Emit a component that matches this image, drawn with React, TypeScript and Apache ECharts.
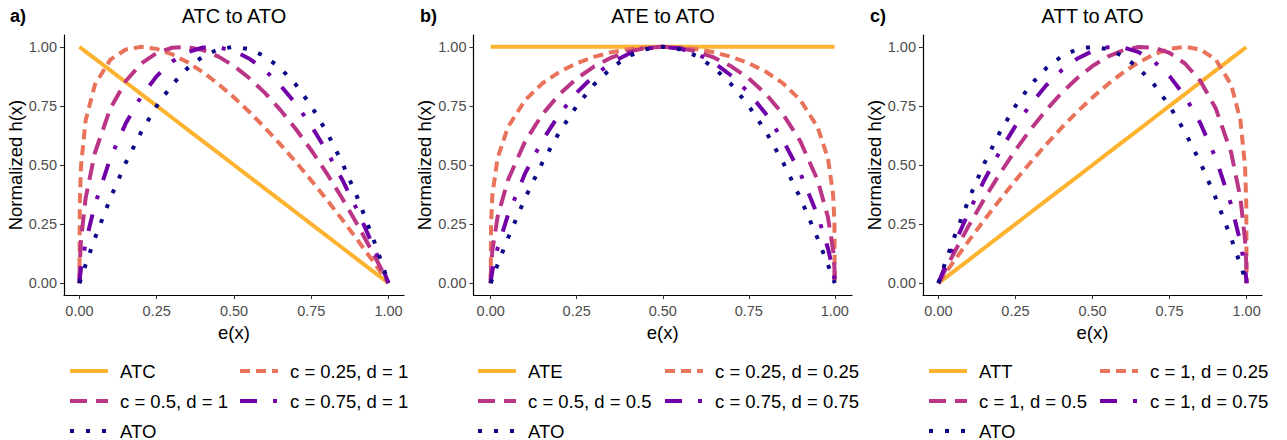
import React, { useEffect, useRef } from "react";
import * as echarts from "echarts";

// Propensity score grid shared by every curve
const E_X = [0, 0.001, 0.005, 0.02, 0.05, 0.1, 0.15, 0.2, 0.25, 0.3, 0.35, 0.4, 0.45, 0.5, 0.55, 0.6, 0.65, 0.7, 0.75, 0.8, 0.85, 0.9, 0.95, 0.98, 0.995, 0.999, 1];

// Panel a) ATC to ATO
const ATC = [1, 0.999, 0.995, 0.98, 0.95, 0.9, 0.85, 0.8, 0.75, 0.7, 0.65, 0.6, 0.55, 0.5, 0.45, 0.4, 0.35, 0.3, 0.25, 0.2, 0.15, 0.1, 0.05, 0.02, 0.005, 0.001, 0];
const A_C025 = [0, 0.332, 0.4945, 0.689, 0.8398, 0.946, 0.9887, 1.0, 0.9913, 0.9684, 0.9346, 0.892, 0.842, 0.7859, 0.7244, 0.658, 0.5874, 0.5129, 0.4349, 0.3535, 0.2692, 0.1821, 0.0923, 0.0372, 0.0093, 0.0019, 0];
const A_C05 = [0, 0.0821, 0.1828, 0.3601, 0.5519, 0.7394, 0.8553, 0.9295, 0.9743, 0.9961, 0.9991, 0.9859, 0.9586, 0.9186, 0.8671, 0.805, 0.7331, 0.6521, 0.5625, 0.4648, 0.3593, 0.2465, 0.1266, 0.0514, 0.013, 0.0026, 0];
const A_C075 = [0, 0.0186, 0.0618, 0.1722, 0.3319, 0.5288, 0.6769, 0.7905, 0.8761, 0.9376, 0.9773, 0.9972, 0.9984, 0.9823, 0.9496, 0.901, 0.8371, 0.7586, 0.6657, 0.559, 0.4387, 0.3053, 0.159, 0.0651, 0.0165, 0.0033, 0];
const ATO = [0, 0.004, 0.0199, 0.0784, 0.19, 0.36, 0.51, 0.64, 0.75, 0.84, 0.91, 0.96, 0.99, 1, 0.99, 0.96, 0.91, 0.84, 0.75, 0.64, 0.51, 0.36, 0.19, 0.0784, 0.0199, 0.004, 0];

// Panel b) ATE to ATO
const ATE = [1, 1, 1, 1, 1, 1, 1, 1, 1, 1, 1, 1, 1, 1, 1, 1, 1, 1, 1, 1, 1, 1, 1, 1, 1, 1, 1];
const B_C025 = [0, 0.2514, 0.3756, 0.5292, 0.6602, 0.7746, 0.8451, 0.8944, 0.9306, 0.9573, 0.9767, 0.9899, 0.9975, 1, 0.9975, 0.9899, 0.9767, 0.9573, 0.9306, 0.8944, 0.8451, 0.7746, 0.6602, 0.5292, 0.3756, 0.2514, 0];
const B_C05 = [0, 0.0632, 0.1411, 0.28, 0.4359, 0.6, 0.7141, 0.8, 0.866, 0.9165, 0.9539, 0.9798, 0.995, 1, 0.995, 0.9798, 0.9539, 0.9165, 0.866, 0.8, 0.7141, 0.6, 0.4359, 0.28, 0.1411, 0.0632, 0];
const B_C075 = [0, 0.0159, 0.053, 0.1482, 0.2878, 0.4648, 0.6035, 0.7155, 0.8059, 0.8774, 0.9317, 0.9699, 0.9925, 1, 0.9925, 0.9699, 0.9317, 0.8774, 0.8059, 0.7155, 0.6035, 0.4648, 0.2878, 0.1482, 0.053, 0.0159, 0];

// Panel c) ATT to ATO
const ATT = [0, 0.001, 0.005, 0.02, 0.05, 0.1, 0.15, 0.2, 0.25, 0.3, 0.35, 0.4, 0.45, 0.5, 0.55, 0.6, 0.65, 0.7, 0.75, 0.8, 0.85, 0.9, 0.95, 0.98, 0.995, 0.999, 1];
const C_D025 = [0, 0.0019, 0.0093, 0.0372, 0.0923, 0.1821, 0.2692, 0.3535, 0.4349, 0.5129, 0.5874, 0.658, 0.7244, 0.7859, 0.842, 0.892, 0.9346, 0.9684, 0.9913, 1.0, 0.9887, 0.946, 0.8398, 0.689, 0.4945, 0.332, 0];
const C_D05 = [0, 0.0026, 0.013, 0.0514, 0.1266, 0.2465, 0.3593, 0.4648, 0.5625, 0.6521, 0.7331, 0.805, 0.8671, 0.9186, 0.9586, 0.9859, 0.9991, 0.9961, 0.9743, 0.9295, 0.8553, 0.7394, 0.5519, 0.3601, 0.1828, 0.0821, 0];
const C_D075 = [0, 0.0033, 0.0165, 0.0651, 0.159, 0.3053, 0.4387, 0.559, 0.6657, 0.7586, 0.8371, 0.901, 0.9496, 0.9823, 0.9984, 0.9972, 0.9773, 0.9376, 0.8761, 0.7905, 0.6769, 0.5288, 0.3319, 0.1722, 0.0618, 0.0186, 0];

const TICKS = [0, 0.25, 0.5, 0.75, 1];
const PANEL_TITLES = ["ATC to ATO", "ATE to ATO", "ATT to ATO"];
const PANEL_TAGS = ["a)", "b)", "c)"];

const PANEL_SERIES = [
  { names: ["ATC", "c = 0.25, d = 1", "c = 0.5, d = 1", "c = 0.75, d = 1", "ATO"], values: [ATC, A_C025, A_C05, A_C075, ATO] },
  { names: ["ATE", "c = 0.25, d = 0.25", "c = 0.5, d = 0.5", "c = 0.75, d = 0.75", "ATO"], values: [ATE, B_C025, B_C05, B_C075, ATO] },
  { names: ["ATT", "c = 1, d = 0.25", "c = 1, d = 0.5", "c = 1, d = 0.75", "ATO"], values: [ATT, C_D025, C_D05, C_D075, ATO] },
];

// Plasma-style palette and line types: solid, dashed, longdash, dotdash, dotted
const COLORS = ["#FDB32F", "#E8735A", "#BB3587", "#7100A8", "#0D0887"];
const DASHES: (number[] | null)[] = [null, [10, 6], [17, 9], [17, 16, 4, 16], [4, 12]];

const FONT = "'Liberation Sans', Arial, Helvetica, sans-serif";

// Pixel geometry of the three plotting panels and their legends
const PANELS = [
  { left: 64, width: 340, titleX: 234, tagX: 10, leg1: 70, leg2: 240 },
  { left: 473.5, width: 378.5, titleX: 663, tagX: 420, leg1: 478, leg2: 665 },
  { left: 923, width: 339, titleX: 1092.5, tagX: 870, leg1: 929, leg2: 1100 },
];
// Legend slots (column, row) for each series in a panel, filled by row
const LEGEND_SLOTS = [
  [0, 0],
  [1, 0],
  [0, 1],
  [1, 1],
  [0, 2],
];
const LEGEND_ROW_Y = [371, 401, 431];
const KEY_LEN = 38;
const KEY_TEXT_GAP = 12;

export default function App() {
  const ref = useRef<HTMLDivElement>(null);

  useEffect(() => {
    if (!ref.current) return;
    const chart = echarts.init(ref.current, undefined, { renderer: "svg" });

    const grids: any[] = [];
    const xAxes: any[] = [];
    const yAxes: any[] = [];
    const series: any[] = [];
    const graphics: any[] = [];

    const fmt = (v: number) => v.toFixed(2);

    PANELS.forEach((p, i) => {
      grids.push({ left: p.left, width: p.width, top: 35, height: 260, containLabel: false });
      const axisCommon = {
        type: "value",
        min: -0.05,
        max: 1.05,
        splitLine: { show: false },
        axisLine: { show: true, onZero: false, lineStyle: { color: "#000", width: 1.2 } },
        axisTick: { show: true, length: 4, customValues: TICKS, lineStyle: { color: "#333", width: 1.1 } },
        nameTextStyle: { fontFamily: FONT, fontSize: 18.5, color: "#000" },
      };
      xAxes.push({
        ...axisCommon,
        gridIndex: i,
        name: "e(x)",
        nameLocation: "middle",
        nameGap: 22,
        axisLabel: { customValues: TICKS, formatter: fmt, fontFamily: FONT, fontSize: 14.5, color: "#4D4D4D", margin: 8 },
      });
      yAxes.push({
        ...axisCommon,
        gridIndex: i,
        name: "Normalized h(x)",
        nameLocation: "middle",
        nameGap: 37,
        axisLabel: { customValues: TICKS, formatter: fmt, fontFamily: FONT, fontSize: 14.5, color: "#4D4D4D", margin: 7 },
      });

      const ps = PANEL_SERIES[i];
      ps.names.forEach((name, k) => {
        const dash = DASHES[k];
        series.push({
          type: "line",
          name,
          xAxisIndex: i,
          yAxisIndex: i,
          data: E_X.map((x, j) => [x, ps.values[k][j]]),
          showSymbol: false,
          symbol: "none",
          lineStyle: { color: COLORS[k], width: 4, type: dash ? dash : "solid", cap: "butt" },
          itemStyle: { color: COLORS[k] },
          z: 2 + k,
        });

        // Legend key and label
        const [col, row] = LEGEND_SLOTS[k];
        const kx = col === 0 ? p.leg1 : p.leg2;
        const ky = LEGEND_ROW_Y[row];
        const keyStyle: any = { stroke: COLORS[k], lineWidth: 4, lineCap: "butt" };
        if (dash) keyStyle.lineDash = dash;
        graphics.push({
          type: "line",
          shape: { x1: kx, y1: ky, x2: kx + KEY_LEN, y2: ky },
          style: keyStyle,
        });
        graphics.push({
          type: "text",
          x: kx + KEY_LEN + KEY_TEXT_GAP,
          y: ky,
          style: { text: name, fontFamily: FONT, fontSize: 18.5, fill: "#000", align: "left", verticalAlign: "middle" },
        });
      });

      graphics.push({
        type: "text",
        x: p.titleX,
        y: 16,
        style: { text: PANEL_TITLES[i], fontFamily: FONT, fontSize: 20, fill: "#000", align: "center", verticalAlign: "middle" },
      });
      graphics.push({
        type: "text",
        x: p.tagX,
        y: 16,
        style: { text: PANEL_TAGS[i], fontFamily: FONT, fontSize: 18, fontWeight: "bold", fill: "#000", align: "left", verticalAlign: "middle" },
      });
    });

    chart.setOption({
      animation: false,
      backgroundColor: "#fff",
      grid: grids,
      xAxis: xAxes,
      yAxis: yAxes,
      series,
      graphic: graphics,
    });

    return () => chart.dispose();
  }, []);

  return <div ref={ref} style={{ position: "absolute", left: 0, top: 0, width: 1287, height: 440 }} />;
}
